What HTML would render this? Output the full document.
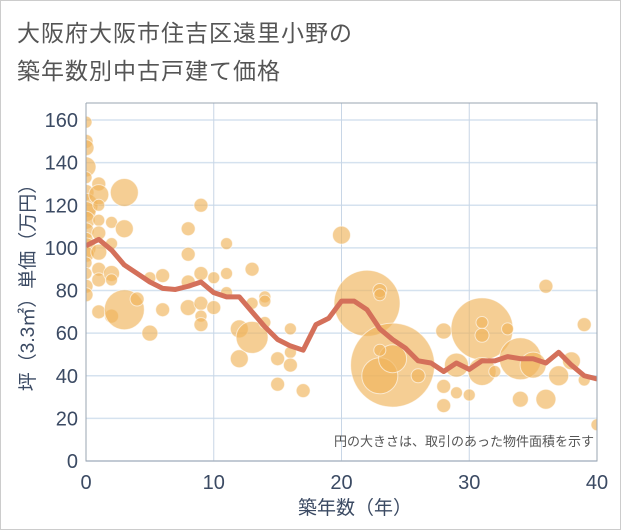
<!DOCTYPE html>
<html><head><meta charset="utf-8"><style>
body{margin:0;background:#fff;}
#wrap{position:relative;width:619px;height:528px;border:1px solid #ccc;font-family:"Liberation Sans","Noto Sans CJK JP",sans-serif;}
.t{position:absolute;left:16px;font-size:23px;color:#555;letter-spacing:1px;}
</style></head><body>
<div id="wrap">
<div class="t" style="top:13px">大阪府大阪市住吉区遠里小野の</div>
<div class="t" style="top:51px">築年数別中古戸建て価格</div>
<svg id="svg" width="621" height="530" style="position:absolute;left:-1px;top:-1px"></svg>
</div>
<script>
const xTicks=[0,10,20,30,40];
const yTicks=[0,20,40,60,80,100,120,140,160];
const lineAges=[0,1,2,3,4,5,6,7,8,9,10,11,12,13,14,15,16,17,18,19,20,21,22,23,24,25,26,27,28,29,30,31,32,33,34,35,36,37,38,39,40];
const lineValues=[101,104,99,92,88,84,81,80.5,82,84,79,77,77,70,63,57,54,52,64,67,75,75,71,62,57,53,47,46,42,46,43,47,47,49,48,48,46,51,45,40,38.5];
const bubbleAges=[0,0,0,0,0,0,0,0,0,0,0,0,0,0,0,0,0,1,1,1,1,1,1,1,1,1,2,2,2,2,2,3,3,3,4,5,5,6,6,8,8,8,8,9,9,9,9,9,10,10,11,11,11,12,12,13,13,13,14,14,14,15,15,16,16,16,17,20,22,23,23,24,23,24,23,26,28,28,28,29,29,30,31,31,31,31,32,33,34,34,35,36,36,37,38,39,39,40];
const bubbleValues=[159,150,147,138,133,126,120,117,113,108,104,100,97,93,88,82,78,130,125,120,113,107,98,90,85,70,112,102,88,85,68,126,109,71,76,60,86,87,71,109,97,84,72,120,88,74,68,64,86,72,102,88,79,62,48,90,58,74,77,75,65,48,36,62,51,45,33,106,74,80,78,45,40,48,52,40,61,35,26,45,32,31,62,65,59,42,42,62,48,29,45,82,29,40,47,64,38,17];
const bubbleSizes=[6,7,8,10,6,8,12,10,9,8,7,10,8,6,6,7,7,7,10,6,6,7,8,7,7,7,6,6,8,6,7,14,9,20,7,8,6,7,7,7,7,7,8,7,7,7,6,7,6,7,6,6,6,9,9,7,16,6,6,6,6,7,7,6,6,7,7,9,33,7,6,42,18,14,6,7,8,7,7,12,6,6,31,6,7,14,6,6,21,8,13,7,10,10,9,7,6,6];
const X0=86,X1=597,Y0=461,Y1=103;
const xs=v=>X0+(v/40)*(X1-X0);
const ys=v=>Y0-(v/168)*(Y0-Y1);
const svg=document.getElementById('svg');const NS='http://www.w3.org/2000/svg';
function mk(tag,attrs,parent){const e=document.createElementNS(NS,tag);for(const k in attrs)e.setAttribute(k,attrs[k]);(parent||svg).appendChild(e);return e;}
const bg=mk('rect',{x:X0,y:Y1,width:X1-X0,height:Y0-Y1,fill:'#fff'});


yTicks.forEach(v=>{
 const g=mk('line',{x1:X0,x2:X1,y1:ys(v),y2:ys(v),stroke:'#d5e2ef','stroke-width':1.5});
 
 
 const t=mk('text',{x:X0-8,y:ys(v)+7,'text-anchor':'end','font-size':20,fill:'#3b4a63'});t.textContent=v;
 
 
});
xTicks.forEach(v=>{
 const g=mk('line',{x1:xs(v),x2:xs(v),y1:Y1,y2:Y0,stroke:'#c8d6e6','stroke-width':1});
 
 
 const t=mk('text',{x:xs(v),y:Y0+28,'text-anchor':'middle','font-size':20,fill:'#3b4a63'});t.textContent=v;
 
 
});
const clip=mk('clipPath',{id:'cp'});mk('rect',{x:X0,y:Y1,width:X1-X0,height:Y0-Y1},clip);
const gb=mk('g',{'clip-path':'url(#cp)'});


bubbleAges.forEach((a,i)=>{
 const c=mk('circle',{cx:xs(a),cy:ys(bubbleValues[i]),r:bubbleSizes[i],fill:'rgba(240,180,90,0.65)',stroke:'rgba(255,255,255,0.6)','stroke-width':1},gb);
 
 
});
const pl=mk('polyline',{points:lineAges.map((a,i)=>xs(a)+','+ys(lineValues[i])).join(' '),fill:'none',stroke:'#d4705a','stroke-width':5,'stroke-linejoin':'round','clip-path':'url(#cp)'});


const ax=mk('path',{d:`M${X0},${Y1}V${Y0}H${X1}V${Y1}H${X0}`,fill:'none',stroke:'#9aa4b0','stroke-width':1});


const note=mk('text',{x:X1-3,y:446,'text-anchor':'end','font-size':13,fill:'#555'});note.textContent='円の大きさは、取引のあった物件面積を示す';


const xt=mk('text',{x:355,y:514,'text-anchor':'middle','font-size':19,fill:'#3b4a63'});xt.textContent='築年数（年）';


const yt=mk('text',{x:0,y:0,'text-anchor':'middle','font-size':19,fill:'#3b4a63',transform:'translate(34,283) rotate(-90)'});yt.textContent='坪（3.3㎡）単価（万円）';


</script>
</body></html>
